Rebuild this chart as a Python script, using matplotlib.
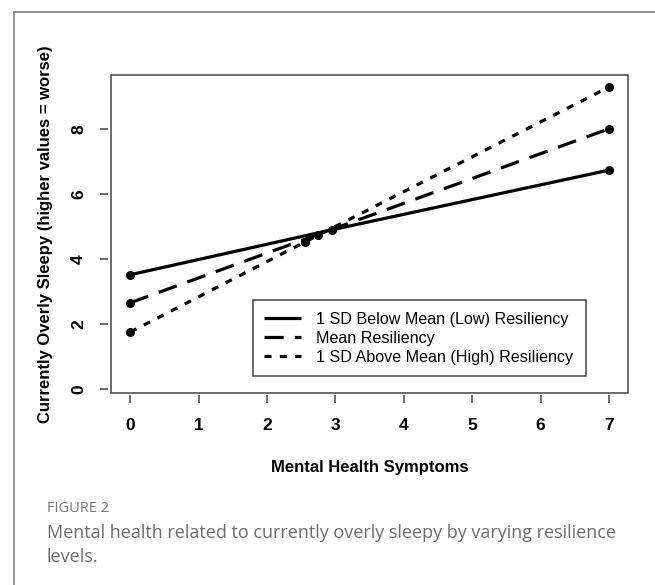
import matplotlib.pyplot as plt
from matplotlib.patches import Rectangle
from matplotlib.lines import Line2D

# values: (x, y) at the start, middle and end of each line
low_x = [0, 2.95, 7]
low_y = [3.52, 4.90, 6.73]
mean_x = [0, 2.74, 7]
mean_y = [2.66, 4.75, 8.00]
high_x = [0, 2.55, 7]
high_y = [1.76, 4.52, 9.28]

labels = ['1 SD Below Mean (Low) Resiliency',
          'Mean Resiliency',
          '1 SD Above Mean (High) Resiliency']
x_ticks = [0, 1, 2, 3, 4, 5, 6, 7]
y_ticks = [0, 2, 4, 6, 8]

plt.rcParams['font.family'] = ['Liberation Sans', 'DejaVu Sans']

fig = plt.figure(figsize=(6.55, 5.85), dpi=100)
ax = fig.add_axes([0.1695, 0.3287, 0.7895, 0.5431])

lw = 2.3
styles = [(0, ()), (0, (6, 3.5)), (0, (2.2, 2.6))]
series = [(low_x, low_y), (mean_x, mean_y), (high_x, high_y)]
for (xs, ys), ls in zip(series, styles):
    ax.plot(xs, ys, color='black', lw=lw, linestyle=ls, dash_capstyle='butt')
    ax.plot(xs, ys, 'o', color='black', ms=5.5, linestyle='none')

ax.set_xlim(-0.28, 7.28)
ax.set_ylim(-0.1, 9.65)

# R style: detached axes with a separate box
for side in ['left', 'bottom']:
    ax.spines[side].set_position(('outward', 2))
for s in ax.spines.values():
    s.set_visible(False)
ax.add_patch(Rectangle((0, 0), 1, 1, transform=ax.transAxes, fill=False,
                       edgecolor='#444444', lw=1.1, clip_on=False, zorder=5))

ax.set_xticks(x_ticks)
ax.set_yticks(y_ticks)
ax.tick_params(direction='out', length=6, width=1.1, color='#444444',
               labelsize=12.5)
ax.tick_params(axis='x', pad=10)
ax.tick_params(axis='y', pad=10)
ax.set_yticklabels([str(v) for v in y_ticks], rotation=90, va='center',
                   fontweight='bold')
ax.set_xticklabels([str(v) for v in x_ticks], fontweight='bold')

ax.set_xlabel('Mental Health Symptoms', fontsize=12, fontweight='bold',
              labelpad=20)
ax.set_ylabel('Currently Overly Sleepy (higher values = worse)', fontsize=12,
              fontweight='bold', labelpad=13)

handles = [Line2D([], [], color='black', lw=lw, linestyle=ls,
                  dash_capstyle='butt') for ls in styles]
leg = ax.legend(handles, labels, loc='lower left',
                bbox_to_anchor=(0.2745, 0.0526, 0.644, 0.255), mode='expand',
                fontsize=11.6, handlelength=2.3, handletextpad=0.9,
                labelspacing=0.25, borderpad=0.7, borderaxespad=0,
                fancybox=False, framealpha=1, edgecolor='#444444')
leg.get_frame().set_linewidth(1.1)

# outer frame of the figure panel (top and left edges visible)
fig.add_artist(Line2D([14 / 655, 1.0], [1 - 12 / 585, 1 - 12 / 585],
                      color='#8a8a8a', lw=1.3))
fig.add_artist(Line2D([14 / 655, 14 / 655], [0.0, 1 - 12 / 585],
                      color='#8a8a8a', lw=1.3))

fig.text(47 / 655, 1 - 509 / 585, 'FIGURE 2', fontsize=10.5, color='#777777',
         family=['Open Sans', 'DejaVu Sans'], va='center')
fig.text(47 / 655, 1 - 545 / 585,
         'Mental health related to currently overly sleepy by varying resilience\nlevels.',
         fontsize=13, color='#6d6d6d', family=['Open Sans', 'DejaVu Sans'],
         va='center', linespacing=1.5)

fig.savefig('out.png', dpi=100)
